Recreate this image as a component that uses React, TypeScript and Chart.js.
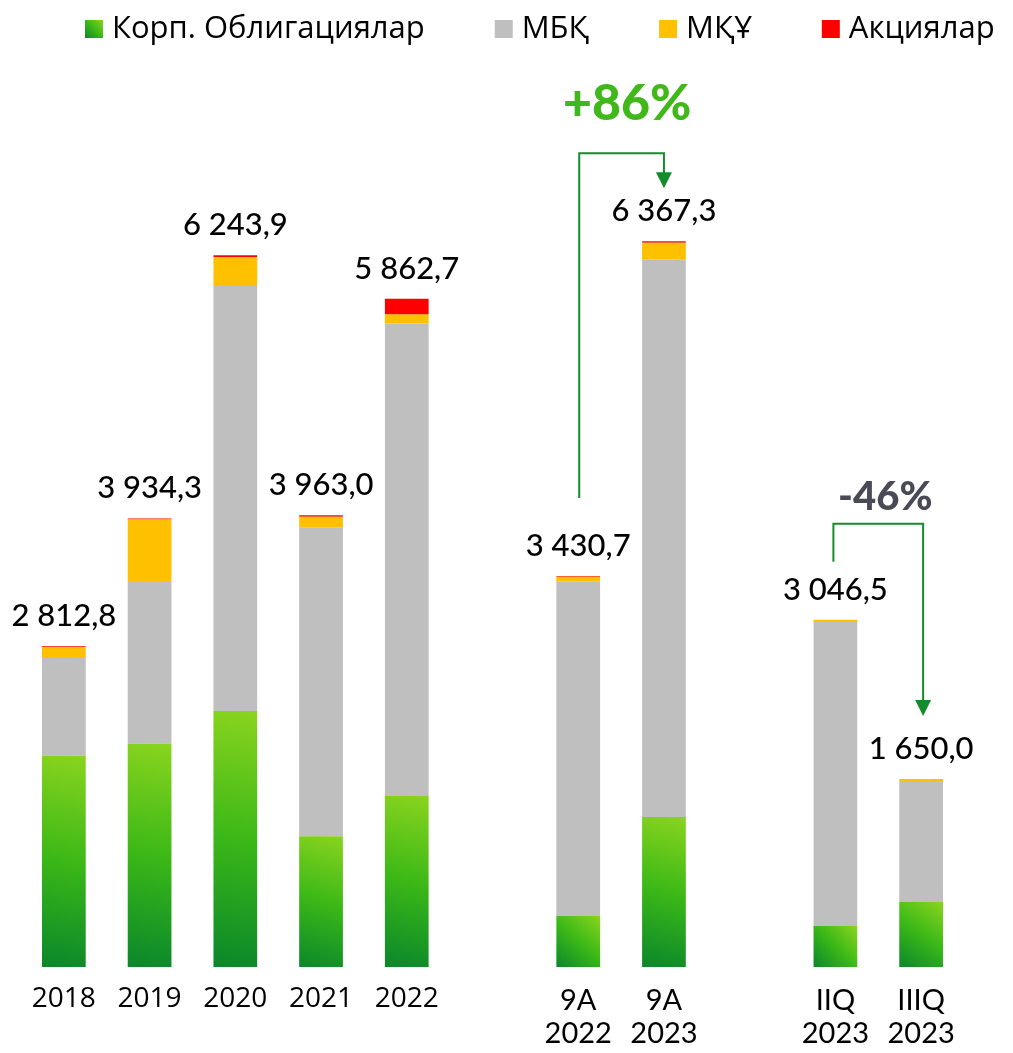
import React, { useEffect, useRef } from "react";
import { Chart, registerables } from "chart.js";

Chart.register(...registerables);

// ---- Data ----
const categories: (string | string[])[] = [
  "2018", "2019", "2020", "2021", "2022", "",
  ["9А", "2022"], ["9А", "2023"], "",
  ["IIQ", "2023"], ["IIIQ", "2023"],
];
const corpBonds = [1855, 1960, 2246, 1147, 1500, null, 447, 1316, null, 360, 570];
const mbk = [855, 1426, 3727, 2706, 4143.7, null, 2932, 4888, null, 2667, 1061];
const mku = [96, 540, 254, 96, 79, null, 44, 149, null, 19.5, 19];
const shares = [6.8, 8.3, 16.9, 14, 140, null, 7.7, 14.3, null, 0, 0];
const totalLabels = ["2 812,8", "3 934,3", "6 243,9", "3 963,0", "5 862,7", "", "3 430,7", "6 367,3", "", "3 046,5", "1 650,0"];
const seriesNames = ["Корп. Облигациялар", "МБҚ", "МҚҰ", "Акциялар"];
const changeLabels = ["+86%", "-46%"];
// comparisons: [fromIndex, toIndex]
const comparisons = [[6, 7], [9, 10]];

// ---- Styles ----
const GREEN_STOPS: [number, string][] = [[0, "#0a872b"], [0.5, "#3bb817"], [1, "#8ad41e"]];
const GRAY = "#bfbfbf";
const YELLOW = "#ffc000";
const RED = "#ff0000";
const ARROW = "#158c2c";
const BAR_PCT = 0.51;

function totalAt(i: number): number | null {
  const a = [corpBonds[i], mbk[i], mku[i], shares[i]];
  if (a[0] == null) return null;
  return a.reduce((s: number, v) => s + (v || 0), 0);
}

const legendPlugin = {
  id: "customLegend",
  afterDraw(chart: any) {
    const ctx = chart.ctx as CanvasRenderingContext2D;
    ctx.save();
    ctx.font = '400 31px "Open Sans"';
    ctx.textBaseline = "alphabetic";
    ctx.textAlign = "left";
    let x = 77;
    const colors = ["g", GRAY, YELLOW, RED];
    seriesNames.forEach((name, k) => {
      if (colors[k] === "g") {
        const g = ctx.createLinearGradient(x, 30, x + 18, 12);
        GREEN_STOPS.forEach(([o, c]) => g.addColorStop(o, c));
        ctx.fillStyle = g;
      } else ctx.fillStyle = colors[k];
      ctx.fillRect(x, 12, 18, 18);
      ctx.fillStyle = "#000";
      ctx.fillText(name, x + 27, 30);
      x += 27 + ctx.measureText(name).width + 70;
    });
    ctx.restore();
  },
};

const labelsPlugin = {
  id: "totalsAndArrows",
  afterDatasetsDraw(chart: any) {
    const ctx = chart.ctx as CanvasRenderingContext2D;
    const xs = chart.scales.x;
    const ys = chart.scales.y;
    ctx.save();
    ctx.font = '500 31px Lato';
    ctx.fillStyle = "#000";
    ctx.textAlign = "center";
    ctx.textBaseline = "alphabetic";
    categories.forEach((_, i) => {
      const t = totalAt(i);
      if (t == null) return;
      ctx.fillText(totalLabels[i], xs.getPixelForValue(i), ys.getPixelForValue(t) - 20);
    });

    const drawConnector = (pts: number[][], tipX: number, tipY: number) => {
      ctx.strokeStyle = ARROW;
      ctx.lineWidth = 2;
      ctx.beginPath();
      ctx.moveTo(pts[0][0], pts[0][1]);
      for (let k = 1; k < pts.length; k++) ctx.lineTo(pts[k][0], pts[k][1]);
      ctx.stroke();
      ctx.fillStyle = ARROW;
      ctx.beginPath();
      ctx.moveTo(tipX - 8, tipY - 16);
      ctx.lineTo(tipX + 8, tipY - 16);
      ctx.lineTo(tipX, tipY);
      ctx.closePath();
      ctx.fill();
    };

    // +86%
    {
      const [a, b] = comparisons[0];
      const xa = xs.getPixelForValue(a), xb = xs.getPixelForValue(b);
      const ta = ys.getPixelForValue(totalAt(a)!), tb = ys.getPixelForValue(totalAt(b)!);
      const hy = tb - 88;
      const tip = tb - 53;
      drawConnector([[xa + 1, ta - 78], [xa + 1, hy], [xb, hy], [xb, tip - 14]], xb, tip);
      ctx.font = '900 50px Lato';
      ctx.fillStyle = "#41b81a";
      ctx.textAlign = "center";
      ctx.textBaseline = "middle";
      ctx.fillText(changeLabels[0], (xa + xb) / 2 + 6, hy - 49);
    }
    // -46%
    {
      const [a, b] = comparisons[1];
      const xa = xs.getPixelForValue(a), xb = xs.getPixelForValue(b);
      const ta = ys.getPixelForValue(totalAt(a)!), tb = ys.getPixelForValue(totalAt(b)!);
      const hy = ta - 96;
      const tip = tb - 63;
      drawConnector([[xa - 2, ta - 58], [xa - 2, hy], [xb + 2, hy], [xb + 2, tip - 14]], xb + 2, tip);
      ctx.font = '900 40px Lato';
      ctx.fillStyle = "#4a4a56";
      ctx.textAlign = "center";
      ctx.textBaseline = "middle";
      ctx.fillText(changeLabels[1], (xa + xb) / 2 + 7, hy - 27);
    }
    ctx.restore();
  },
};

export default function App() {
  const ref = useRef<HTMLCanvasElement>(null);
  useEffect(() => {
    const greenFill = (c: any) => {
      const chart = c.chart;
      const { chartArea, scales } = chart;
      if (!chartArea || c.type !== "data") return "#3bb817";
      const i = c.dataIndex;
      const v = corpBonds[i];
      if (v == null) return "#3bb817";
      const cx = scales.x.getPixelForValue(i);
      const half = ((chartArea.right - chartArea.left) / categories.length) * BAR_PCT / 2;
      const y0 = scales.y.getPixelForValue(0);
      const y1 = scales.y.getPixelForValue(v);
      const g = chart.ctx.createLinearGradient(cx - half, y0, cx + half, y1);
      GREEN_STOPS.forEach(([o, col]) => g.addColorStop(o, col));
      return g;
    };
    const chart = new Chart(ref.current!, {
      type: "bar",
      data: {
        labels: categories,
        datasets: [
          { label: seriesNames[0], data: corpBonds, backgroundColor: greenFill as any },
          { label: seriesNames[1], data: mbk, backgroundColor: GRAY },
          { label: seriesNames[2], data: mku, backgroundColor: YELLOW },
          { label: seriesNames[3], data: shares, backgroundColor: RED },
        ],
      },
      options: {
        responsive: false,
        animation: false,
        layout: { padding: { top: 47, left: 13, right: 41, bottom: 0 } },
        datasets: { bar: { barPercentage: BAR_PCT, categoryPercentage: 1, borderWidth: 0 } },
        plugins: { legend: { display: false }, tooltip: { enabled: false } },
        scales: {
          x: {
            stacked: true,
            offset: true,
            grid: { display: false, drawTicks: false },
            border: { display: false },
            afterFit: (axis: any) => { axis.height = 78; },
            ticks: {
              autoSkip: false,
              maxRotation: 0,
              minRotation: 0,
              padding: 17,
              color: "#000",
              font: (c: any) =>
                c.index < 5
                  ? { family: "Open Sans", size: 28, lineHeight: 1.1 }
                  : { family: "Lato", size: 29, lineHeight: 1.14 },
            },
          },
          y: { stacked: true, display: false, min: 0, max: 8000 },
        },
      },
      plugins: [legendPlugin, labelsPlugin],
    });
    return () => chart.destroy();
  }, []);
  return (
    <div style={{ width: 997, height: 1037 }}>
      <canvas ref={ref} width={997} height={1037} style={{ display: "block" }} />
    </div>
  );
}
